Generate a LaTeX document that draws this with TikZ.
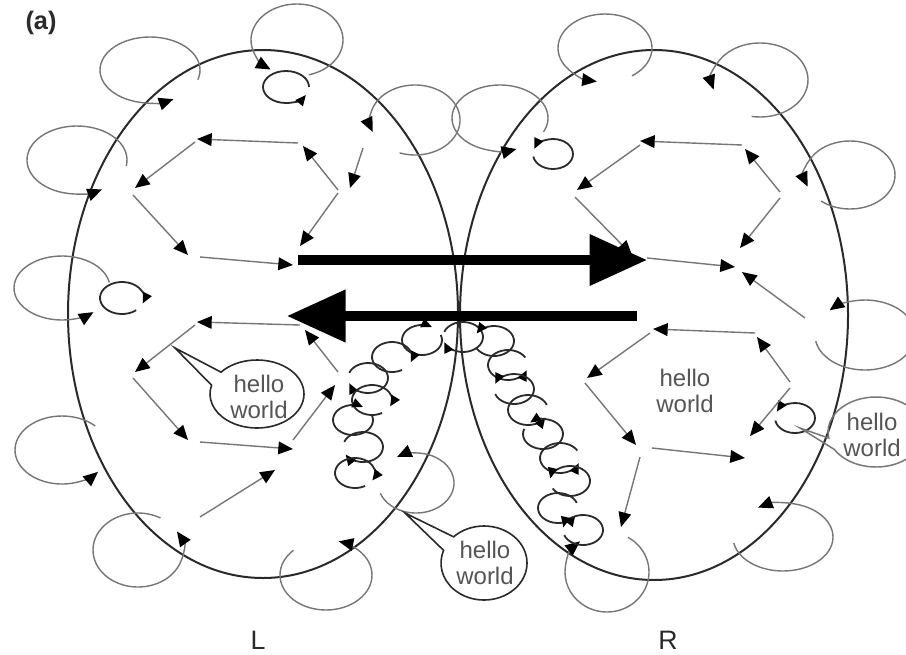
\documentclass[tikz,border=0pt]{standalone}
\usepackage{fontspec}
\newfontfamily\hv{Liberation Sans}
\usetikzlibrary{arrows.meta,calc}
\definecolor{lg}{HTML}{767676}
\definecolor{dk}{HTML}{2A2A2A}
\definecolor{tx}{HTML}{555555}
\newcommand{\gloop}[6]{\draw[gl] (#1,#2) ++(#5:#3 and #4) arc[start angle=#5,end angle=#6,x radius=#3,y radius=#4];}
\newcommand{\bcirc}[4]{\draw[chainc] (#1,#2) ++(#3:20 and 15) arc[start angle=#3,end angle=#4,x radius=20,y radius=15];}
\begin{document}
\begin{tikzpicture}[x=0.75pt,y=-0.75pt,
  gl/.style={draw=lg,line width=1.05pt,-{Triangle[length=11pt,width=9.5pt,color=black]}},
  ga/.style={draw=lg,line width=1.05pt,-{Triangle[length=11pt,width=9.5pt,color=black]}},
  bigell/.style={draw=dk,line width=1.5pt},
  chainc/.style={draw=dk,line width=1.35pt,-{Triangle[length=8pt,width=7pt,color=black]}},
  bigarrow/.style={draw=black,line width=6.8pt,-{Triangle[length=43pt,width=37pt]}},
  callout/.style={draw=dk,line width=1.2pt,fill=white},
  hw/.style={align=center,text=tx,font=\hv\fontsize{18}{19.5}\selectfont,inner sep=0pt},
  lbl/.style={text=dk,font=\hv\fontsize{20}{22}\selectfont,inner sep=0pt}]
\useasboundingbox (0,0) rectangle (906,654);
\fill[white] (0,0) rectangle (906,654);
\clip (0,0) rectangle (906,654);

% big ellipses
\draw[bigell] (263,314) ellipse [x radius=195,y radius=264];
\draw[bigell] (654,315) ellipse [x radius=194,y radius=265];

% gray loops
\gloop{150}{70}{50}{33}{17}{-298}
\gloop{297}{40}{46}{36}{75}{-235}
\gloop{77}{160}{50}{34}{10}{-300}
\gloop{415}{120}{45}{35}{110}{-200}
\gloop{500}{118}{48}{33}{25}{-290}
\gloop{62}{288}{48}{32}{-10}{-311}
\gloop{605}{48}{47}{34}{55}{-260}
\gloop{760}{80}{48}{37}{100}{-195}
\gloop{850}{175}{45}{34}{130}{-200}
\gloop{865}{335}{50}{35}{170}{-135}
\gloop{62}{450}{47}{34}{-45}{-320}
\gloop{138}{550}{45}{37}{-60}{-390}
\gloop{326}{575}{46}{35}{-135}{-434}
\gloop{416}{483}{38}{30}{160}{-120}
\gloop{783}{537}{50}{34}{170}{-120}
\gloop{607}{572}{42}{40}{-60}{230}

% small black circles
\draw[chainc] (286,87) ++(0:23 and 16) arc[start angle=0,end angle=-330,x radius=23,y radius=16];
\draw[chainc] (553,154) ++(170:20 and 15) arc[start angle=170,end angle=-160,x radius=20,y radius=15];
\draw[chainc] (122,298) ++(50:22 and 16) arc[start angle=50,end angle=380,x radius=22,y radius=16];
\draw[chainc] (795,418) ++(170:20 and 15) arc[start angle=170,end angle=-155,x radius=20,y radius=15];

% left upper hexagon
\draw[ga] (298,143) -- (197,139);
\draw[ga] (195,142) -- (135,188);
\draw[ga] (133,195) -- (188,255);
\draw[ga] (200,257) -- (293,265);
\draw[ga] (338,193) -- (300,246);
\draw[ga] (338,190) -- (303,146);
\draw[ga] (363,148) -- (350,188);

% left lower hexagon
\draw[ga] (300,325) -- (197,322);
\draw[ga] (195,325) -- (135,372);
\draw[ga] (133,378) -- (188,440);
\draw[ga] (200,442) -- (293,449);
\draw[ga] (293,440) -- (335,385);
\draw[ga] (338,372) -- (305,330);
\draw[ga] (200,517) -- (275,470);

% right upper hexagon
\draw[ga] (742,145) -- (640,141);
\draw[ga] (640,145) -- (577,190);
\draw[ga] (575,197) -- (632,255);
\draw[ga] (647,258) -- (735,267);
\draw[ga] (780,198) -- (740,248);
\draw[ga] (780,192) -- (745,149);
\draw[ga] (805,318) -- (742,272);

% right lower hexagon
\draw[ga] (755,333) -- (653,329);
\draw[ga] (650,333) -- (587,378);
\draw[ga] (585,383) -- (636,445);
\draw[ga] (652,448) -- (745,458);
\draw[ga] (790,388) -- (750,436);
\draw[ga] (790,382) -- (757,337);
\draw[ga] (640,457) -- (621,527);

% chains of circles
\bcirc{463}{337}{200}{520}
\bcirc{422}{340}{-20}{300}
\bcirc{392}{357}{60}{380}
\bcirc{368}{378}{-160}{160}
\bcirc{372}{400}{60}{385}
\bcirc{353}{420}{-20}{300}
\bcirc{363}{447}{-160}{150}
\bcirc{355}{473}{60}{390}
\bcirc{494}{341}{150}{-150}
\bcirc{508}{365}{-30}{-340}
\bcirc{514}{389}{160}{-160}
\bcirc{528}{410}{-20}{-330}
\bcirc{543}{434}{200}{-130}
\bcirc{560}{458}{-30}{-340}
\bcirc{570}{481}{150}{-170}
\bcirc{558}{508}{-20}{-330}
\bcirc{583}{530}{160}{-170}

% callouts
\draw[callout] (175,348) -- ($(257,394)+(-140:47 and 34)$) arc[start angle=-140,end angle=195,x radius=47,y radius=34] -- cycle;
\draw[callout] (405,513) -- ($(484,563)+(-135:43 and 37)$) arc[start angle=-135,end angle=200,x radius=43,y radius=37] -- cycle;
\draw[draw=lg,line width=1.1pt] (800,428) -- ($(876,432)+(150:48 and 35)$) arc[start angle=150,end angle=-190,x radius=48,y radius=35] -- cycle;

\node[hw] (t1) at (259,397) {hello\\world};
\node[hw] (t2) at (485,563) {hello\\world};
\node[hw] (t3) at (685,391) {hello\\world};
\node[hw] (t4) at (872,435) {hello\\world};

% thick arrows
\coordinate (ua) at (298,260);
\coordinate (ub) at (647,260);
\coordinate (la) at (637,316);
\coordinate (lb) at (287,316);
\draw[bigarrow] (ua) -- (ub);
\draw[bigarrow,-{Triangle[length=44pt,width=38pt]}] (la) -- (lb);

% labels
\node[text=dk,font=\hv\bfseries\fontsize{19}{21}\selectfont,inner sep=0pt] (a) at (41,23) {(a)};
\node[lbl] (L) at (258,640) {L};
\node[lbl] (R) at (668,640) {R};
\end{tikzpicture}
\end{document}
